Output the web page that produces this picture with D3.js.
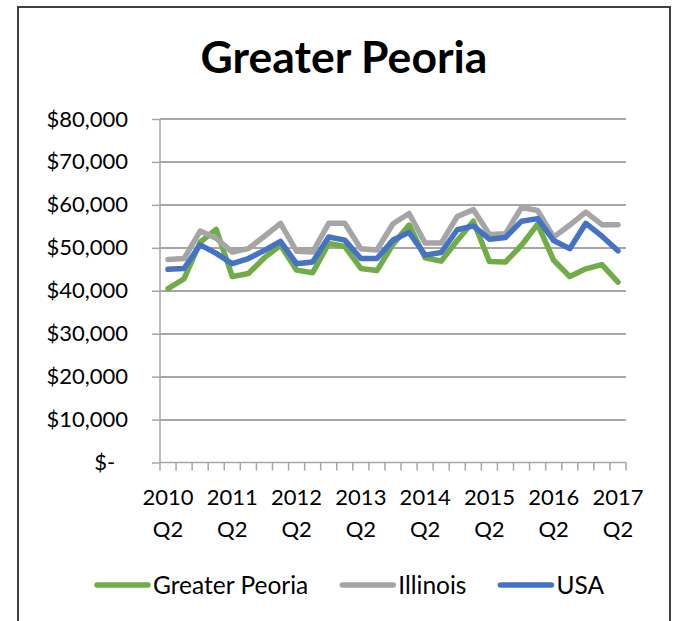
<!DOCTYPE html>
<meta charset="utf-8">
<style>
    body {
        margin: 0;
        background: #fff;
        font-family: Lato, 'Open Sans', sans-serif;
    }

    .axis text {
        font-family: Lato, 'Open Sans', sans-serif;
        font-size: 22px;
        fill: #000;
    }

    .legend text {
        font-size: 24.5px;
        fill: #000;
    }

    .grid line {
        stroke: #a6a6a6;
        stroke-width: 1.5px;
        shape-rendering: crispEdges;
    }
</style>

<body>
    <svg id="chart"></svg>

    <script src="https://cdn.jsdelivr.net/npm/d3@7"></script>
    <script>

        // quarters from 2010 Q2 to 2017 Q2
        var quarters = ["2010 Q2", "2010 Q3", "2010 Q4", "2011 Q1",
            "2011 Q2", "2011 Q3", "2011 Q4", "2012 Q1",
            "2012 Q2", "2012 Q3", "2012 Q4", "2013 Q1",
            "2013 Q2", "2013 Q3", "2013 Q4", "2014 Q1",
            "2014 Q2", "2014 Q3", "2014 Q4", "2015 Q1",
            "2015 Q2", "2015 Q3", "2015 Q4", "2016 Q1",
            "2016 Q2", "2016 Q3", "2016 Q4", "2017 Q1",
            "2017 Q2"];

        var peoria = [40500, 42800, 51300, 54300, 43300, 44000, 47700, 50600,
            44800, 44200, 51000, 50300, 45200, 44700, 50800, 55300,
            47700, 46900, 51700, 56200, 46800, 46700, 50600, 55500,
            47100, 43300, 45100, 46100, 42000];

        var illinois = [47300, 47500, 53900, 52200, 49000, 49800, 52700, 55700,
            49200, 49000, 55700, 55700, 49800, 49500, 55600, 58000,
            51100, 51100, 57300, 58900, 53100, 53300, 59400, 58700,
            52500, 55300, 58300, 55400, 55400];

        var usa = [45000, 45200, 50700, 48700, 46300, 47500, 49400, 51500,
            46300, 46700, 52500, 51800, 47500, 47500, 51800, 53600,
            48300, 48900, 54200, 55100, 52000, 52400, 56200, 56800,
            51700, 49800, 55700, 52700, 49300];

        var seriesNames = ["Greater Peoria", "Illinois", "USA"];
        var seriesColors = ["#70ad47", "#a5a5a5", "#4472c4"];
        var yTicks = [0, 10000, 20000, 30000, 40000, 50000, 60000, 70000, 80000];

        var W = 675, H = 621;
        var svg = d3.select("#chart").attr("width", W).attr("height", H);

        // outer frame of the chart
        svg.append("rect")
            .attr("x", 18).attr("y", 7)
            .attr("width", 652).attr("height", 640)
            .attr("fill", "#fff")
            .attr("stroke", "#404040")
            .attr("stroke-width", 2);

        svg.append("text")
            .attr("x", 344).attr("y", 73)
            .attr("text-anchor", "middle")
            .style("font-size", "44.5px")
            .style("font-weight", "bold")
            .text("Greater Peoria");

        var plotLeft = 160, plotRight = 626, plotTop = 119, plotBottom = 462.5;

        var x = d3.scaleBand().domain(quarters).range([plotLeft, plotRight]);
        var y = d3.scaleLinear().domain([0, 80000]).range([plotBottom, plotTop]);

        // horizontal gridlines
        svg.append("g").attr("class", "grid")
            .selectAll("line")
            .data(yTicks.filter(function (d) { return d > 0; }))
            .enter().append("line")
            .attr("x1", plotLeft).attr("x2", plotRight)
            .attr("y1", function (d) { return Math.round(y(d)); })
            .attr("y2", function (d) { return Math.round(y(d)); });

        // y axis
        var yAxis = svg.append("g")
            .attr("class", "axis")
            .attr("transform", "translate(" + plotLeft + ",0)")
            .call(d3.axisLeft(y)
                .tickValues(yTicks)
                .tickSize(8)
                .tickPadding(24)
                .tickFormat(function (d) {
                    return d == 0 ? "$-\u2007" : "$" + d3.format(",")(d);
                }));
        yAxis.select(".domain").remove();
        yAxis.selectAll("line").attr("stroke", "#a6a6a6").attr("stroke-width", 1.5);
        yAxis.append("line")
            .attr("x1", 0).attr("x2", 0)
            .attr("y1", plotTop).attr("y2", plotBottom)
            .attr("stroke", "#a6a6a6").attr("stroke-width", 1.5);

        // x axis: tick marks between categories, labels on the Q2 ones
        var xAxis = svg.append("g")
            .attr("class", "axis")
            .attr("transform", "translate(0," + plotBottom + ")");
        xAxis.append("line")
            .attr("x1", plotLeft).attr("x2", plotRight)
            .attr("stroke", "#a6a6a6").attr("stroke-width", 1.5);
        var edges = quarters.map(function (q) { return x(q); }).concat([plotRight]);
        xAxis.selectAll(".tick-mark")
            .data(edges)
            .enter().append("line")
            .attr("class", "tick-mark")
            .attr("x1", function (d) { return d; })
            .attr("x2", function (d) { return d; })
            .attr("y1", 0).attr("y2", 8)
            .attr("stroke", "#a6a6a6").attr("stroke-width", 1.5);

        var labels = xAxis.selectAll(".xlabel")
            .data(quarters.filter(function (q) { return q.indexOf("Q2") > 0; }))
            .enter().append("text")
            .attr("class", "xlabel")
            .attr("text-anchor", "middle")
            .attr("transform", function (d) {
                return "translate(" + (x(d) + x.bandwidth() / 2) + ",0)";
            });
        labels.append("tspan")
            .attr("x", 0).attr("y", 42)
            .text(function (d) { return d.split(" ")[0]; });
        labels.append("tspan")
            .attr("x", 0).attr("y", 74)
            .text(function (d) { return d.split(" ")[1]; });

        // the three lines
        var line = d3.line()
            .x(function (d, i) { return x(quarters[i]) + x.bandwidth() / 2; })
            .y(function (d) { return y(d); });

        var allSeries = [peoria, illinois, usa];
        svg.append("g")
            .selectAll("path")
            .data(allSeries)
            .enter().append("path")
            .attr("d", line)
            .attr("fill", "none")
            .attr("stroke", function (d, i) { return seriesColors[i]; })
            .attr("stroke-width", 5.5)
            .attr("stroke-linejoin", "round")
            .attr("stroke-linecap", "round");

        // legend
        var legend = svg.append("g").attr("class", "legend");
        var lx = 95, ly = 585;
        seriesNames.forEach(function (name, i) {
            legend.append("line")
                .attr("x1", lx + 2).attr("x2", lx + 53)
                .attr("y1", ly).attr("y2", ly)
                .attr("stroke", seriesColors[i])
                .attr("stroke-width", 5.5)
                .attr("stroke-linecap", "round");
            var t = legend.append("text")
                .attr("x", lx + 58).attr("y", ly)
                .attr("dy", "0.35em")
                .text(name);
            lx = lx + 58 + t.node().getComputedTextLength() + 32;
        });

    </script>
</body>
